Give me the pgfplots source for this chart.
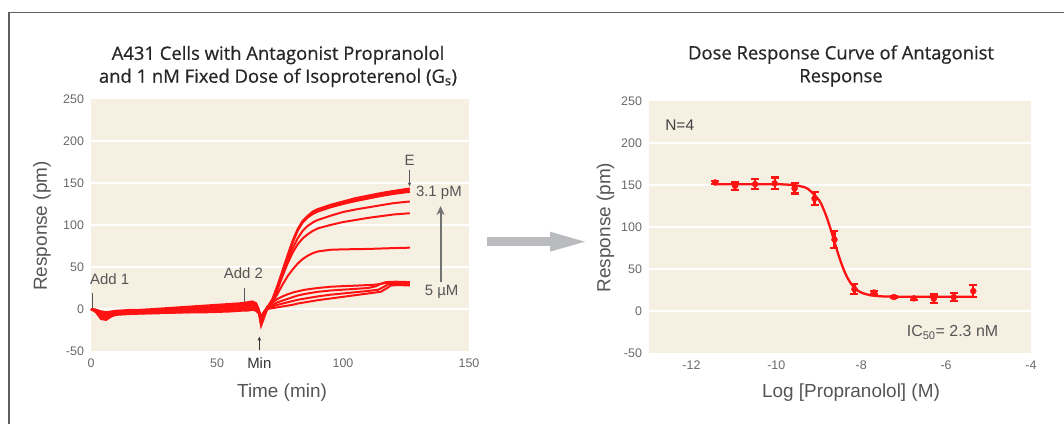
\documentclass[border=0pt]{standalone}
\usepackage{fontspec}
\setmainfont{Liberation Sans}
\newfontfamily\titlefont{Open Sans}[FakeBold=0.6]
\usepackage{pgfplots}
\pgfplotsset{compat=1.18}
\usetikzlibrary{arrows.meta}
\definecolor{bg}{RGB}{246,240,227}
\definecolor{tickc}{RGB}{105,105,105}
\definecolor{labc}{RGB}{85,85,85}
\definecolor{trace}{RGB}{255,18,18}
\definecolor{arrowc}{RGB}{185,187,191}
\definecolor{framec}{RGB}{95,95,95}
\pgfplotsset{
  myaxis/.style={
    scale only axis,
    axis background/.style={fill=bg},
    axis line style={draw=none},
    major tick length=0pt,
    ymin=-50, ymax=250, ytick={0,50,...,200},
    extra y ticks={-50,250}, extra y tick style={grid=none},
    ymajorgrids, grid style={white, line width=2.5bp},
    tick label style={font=\fontsize{12.5}{14}\selectfont, text=tickc},
    yticklabel style={xshift=-3.5bp},
    xticklabel style={yshift=-4.5bp},
    /pgf/number format/assume math mode=true,
    clip=false,
  },
  tr/.style={trace, line width=2bp},
}
\begin{document}
\begin{tikzpicture}
\useasboundingbox (0bp,0bp) rectangle (1064bp,424bp);
\draw[framec, line width=1.3bp] (9bp,-2bp) -- (9bp,411.3bp) -- (1068bp,411.3bp);
% big arrow
\fill[arrowc] (486.7bp,178bp) rectangle (550.5bp,186.6bp);
\fill[arrowc] (550bp,172.3bp) -- (585bp,182.3bp) -- (550bp,192.3bp) -- cycle;
% titles
\node[align=center, font=\titlefont\fontsize{18.5}{23}\selectfont, text=black!85] at (278bp,357.5bp)
  {A431 Cells with Antagonist Propranolol\\and 1 nM Fixed Dose of Isoproterenol (G\textsubscript{s})};
\node[align=center, font=\titlefont\fontsize{18.5}{23}\selectfont, text=black!85] at (841bp,358bp)
  {Dose Response Curve of Antagonist\\Response};
% axis labels
\node[rotate=90, font=\fontsize{19}{21}\selectfont, text=labc] at (42bp,198bp) {Response (pm)};
\node[rotate=90, font=\fontsize{19}{21}\selectfont, text=labc] at (605.5bp,196.5bp) {Response (pm)};
\node[font=\fontsize{19}{21}\selectfont, text=labc] at (282bp,31bp) {Time (min)};
\node[font=\fontsize{19}{21}\selectfont, text=labc] at (851bp,31bp) {Log [Propranolol] (M)};

\begin{axis}[myaxis, at={(91bp,73bp)}, anchor=south west, width=378bp, height=252bp,
  xmin=0, xmax=150, xtick={0,50,100,150}]
\addplot[tr] coordinates {(0,0)(2,-2)(4,-6)(6,-5)(9,-3)(12,-2)(15,-1)(20,-1)(25,0)(30,1)(35,2)(40,3)(45,4)(50,5)(55,6)(60,7)(62,8)(64,9)(65.5,7)(66.5,0)(67.5,-10)(69,-2)(70,2)(72,12)(74,28)(76,46)(78,64)(80,81)(82,95)(84,105)(86,111)(88,116)(90,119)(95,124)(100,128)(105,132)(110,135)(115,138)(120,140.5)(126.5,143.5)};
\addplot[tr] coordinates {(0,0)(2,-3)(4,-10)(6,-11)(8,-7)(10,-5)(15,-4)(20,-3)(25,-2)(30,-1)(35,0)(40,1)(45,2)(50,3)(55,4)(60,5)(62,6)(64,7)(65.5,5)(66.5,-2)(67.5,-18)(68.5,-10)(70,1)(72,10)(74,26)(76,44)(78,62)(80,79)(82,93)(84,103)(86,109)(88,113)(90,116)(95,121)(100,125)(105,128.5)(110,131.5)(115,134.5)(120,137)(126.5,139.5)};
\addplot[tr] coordinates {(0,0)(2,-1)(4,-3)(6,-4)(10,-2)(15,-2)(20,-1)(25,-1)(30,0)(35,1)(40,2)(45,3)(50,4)(55,5)(60,6)(62,7)(64,8)(65.5,6)(66.5,0)(67.5,-14)(69,-4)(70,1.5)(72,11)(74,27)(76,45)(78,63)(80,80)(82,94)(84,104)(86,110)(88,114.5)(90,117.5)(95,122.5)(100,126.5)(105,130)(110,133)(115,136)(120,138.8)(126.5,141.5)};
\addplot[tr] coordinates {(0,0)(2,-4)(4,-12)(6,-13)(8,-9)(10,-6)(15,-5)(20,-4.5)(25,-4)(30,-3)(35,-2)(40,-1)(45,0)(50,1)(55,2)(60,3)(62,4)(64,5)(65.5,3)(66.5,-3)(67.5,-20)(68.5,-12)(70,1)(72,10)(74,25)(76,42)(78,58)(80,72)(82,84)(84,93)(86,99)(88,103)(90,106)(95,111)(100,115.5)(105,118.5)(110,121)(115,123.5)(120,126)(126.5,128)};
\addplot[tr] coordinates {(0,0)(2,-2)(4,-5)(6,-6)(10,-4)(15,-3)(20,-2.5)(25,-2)(30,-1.5)(35,-1)(40,0)(45,1)(50,2)(55,3)(60,4)(62,5)(64,6)(65.5,4)(66.5,-1)(67.5,-16)(69,-6)(70,0)(72,9)(74,23)(76,39)(78,54)(80,67)(82,77)(84,84)(86,89)(88,93)(90,96)(95,100)(100,103.5)(105,106)(110,108.5)(115,110.5)(120,112.5)(126.5,114)};
\addplot[tr] coordinates {(0,0)(2,-2)(4,-7)(6,-8)(10,-5)(15,-4)(20,-3.5)(25,-3)(30,-2)(35,-1)(40,0)(45,1)(50,1.5)(55,2)(60,3)(62,4)(64,5)(65.5,3)(66.5,-2)(67.5,-14)(68.5,-8)(70,1)(72,8)(74,18)(76,29)(78,39)(80,47)(82,54)(84,59.5)(86,63.5)(88,66.5)(90,68.5)(95,70.5)(100,71)(110,71.5)(120,72.5)(126.5,73)};
\addplot[tr] coordinates {(0,0)(2,-1)(4,-4)(6,-5)(10,-3)(15,-3)(20,-3)(25,-3)(30,-2.5)(35,-2)(40,-1.5)(45,-1)(50,0)(55,1)(60,2)(62,3)(64,4)(65.5,2)(66.5,-2)(67.5,-10)(68.5,-5)(70,3)(72,8)(74,12)(76,15)(78,17.5)(80,19.5)(82,21)(85,23)(90,25)(95,26.5)(100,27.2)(105,27.8)(110,28.5)(113,29)(116,30.5)(118,31.5)(122,31.5)(126.5,31.5)};
\addplot[tr] coordinates {(0,0)(2,-3)(4,-9)(6,-10)(10,-7)(15,-6)(20,-5.5)(25,-5)(30,-4.5)(35,-4)(40,-3.5)(45,-3)(50,-2)(55,-1)(60,0)(62,1)(64,2)(65.5,0)(66.5,-3)(67.5,-12)(68.5,-7)(70,2)(72,5)(74,8)(76,10)(78,12)(80,14)(82,16)(85,18)(90,20.5)(95,22)(100,23)(105,24)(110,25)(113,27)(115,30)(117,32)(121,32.5)(126.5,32)};
\addplot[tr] coordinates {(0,0)(2,-2)(4,-6)(6,-7)(10,-5)(15,-5)(20,-5)(25,-5)(30,-4.5)(35,-4)(40,-3.5)(45,-3)(50,-2.5)(55,-2)(60,-1)(62,-1)(64,0)(65.5,-1)(66.5,-4)(67.5,-10)(69,-3)(70,1)(72,3)(74,5)(76,6.5)(78,8)(80,9.5)(82,11)(85,12.5)(90,15)(95,17)(100,18.5)(105,20)(110,21.5)(114,23)(116,26)(118,29.5)(121,30)(126.5,30)};
\addplot[tr] coordinates {(0,0)(2,-1)(4,-3)(6,-4)(10,-4)(15,-5)(20,-5)(25,-5)(30,-4.5)(35,-4)(40,-4)(45,-4)(50,-3.5)(55,-3)(60,-2)(62,-2)(64,-1)(65.5,-2)(66.5,-5)(67.5,-8)(69,-2)(70,0)(72,1)(74,2)(76,3)(78,4)(80,5)(82,6.5)(85,8)(90,10.5)(95,12.5)(100,14.5)(105,16.5)(110,18.5)(115,20.5)(117,24)(119,28)(122,28.5)(126.5,28)};
% annotations
\draw[labc, line width=0.8bp] (axis cs:0.6,1) -- (axis cs:0.6,18.5);
\node[anchor=west, inner sep=0pt, font=\fontsize{15}{17}\selectfont, text=labc] at (axis cs:-0.4,35.7) {Add 1};
\draw[labc, line width=0.8bp] (axis cs:60.7,8.7) -- (axis cs:60.7,25);
\node[inner sep=0pt, font=\fontsize{15}{17}\selectfont, text=labc] at (axis cs:60.5,43) {Add 2};
\draw[black!80, line width=0.8bp, -{Stealth[length=4bp,width=3.5bp]}] (axis cs:66.8,-49) -- (axis cs:66.8,-33);
\node[inner sep=0pt, font=\fontsize{15}{17}\selectfont, text=black!80] at (axis cs:66.8,-64.3) {Min};
\node[inner sep=0pt, font=\fontsize{15}{17}\selectfont, text=labc] at (axis cs:126.4,177) {E};
\draw[labc, line width=0.8bp, -{Stealth[length=4bp,width=3.5bp]}] (axis cs:126.4,166) -- (axis cs:126.4,146);
\node[anchor=west, inner sep=0pt, font=\fontsize{15}{17}\selectfont, text=labc] at (axis cs:128.9,138) {3.1 pM};
\node[anchor=west, inner sep=0pt, font=\fontsize{15}{17}\selectfont, text=labc] at (axis cs:132.4,20.2) {5 µM};
\draw[black!55, line width=2bp, -{Stealth[length=9bp,width=8bp]}] (axis cs:138.7,32) -- (axis cs:138.7,122.6);
\end{axis}

\begin{axis}[myaxis, at={(649bp,71bp)}, anchor=south west, width=382bp, height=252bp,
  xmin=-13, xmax=-4, xtick={-12,-10,-8,-6,-4}]
\addplot[trace, line width=2.3bp, smooth] coordinates {(-11.44,151)(-10.5,150.95)(-10,150.9)(-9.75,150.5)(-9.5,149.3)(-9.4,148.2)(-9.25,145.2)(-9.0,132.4)(-8.9,122.7)(-8.8,109.7)(-8.7,94.1)(-8.6,77.2)(-8.5,61.2)(-8.4,47.7)(-8.3,37.3)(-8.2,30.0)(-8.1,25.2)(-8.0,22.0)(-7.8,18.9)(-7.5,17.4)(-7.0,17.0)(-6,17)(-5.36,17)};
\addplot[trace, only marks, mark=*, mark size=3bp,
  error bars/.cd, y dir=both, y explicit,
  error bar style={line width=2.2bp, trace},
  error mark options={rotate=90, trace, line width=2.2bp, mark size=4bp}]
 coordinates {
 (-11.44,153) +- (0,1.5)
 (-10.97,149) +- (0,5)
 (-10.50,151) +- (0,6)
 (-10.04,152) +- (0,7)
 (-9.57,146) +- (0,6)
 (-9.10,134) +- (0,8)
 (-8.63,85) +- (0,10)
 (-8.16,26) +- (0,6)
 (-7.70,22) +- (0,2)
 (-7.23,16.6) +- (0,1.5)
 (-6.76,15) +- (0,1.5)
 (-6.29,14.7) +- (0,5)
 (-5.82,16.6) +- (0,5)
 (-5.36,23.7) +- (0,7)
 };
\node[anchor=west, inner sep=0pt, font=\fontsize{15.5}{17}\selectfont, text=black!75] at (axis cs:-12.62,221) {N=4};
\node[anchor=west, inner sep=0pt, font=\fontsize{16}{18}\selectfont, text=labc] at (axis cs:-6.93,-25.6) {IC\textsubscript{50}= 2.3 nM};
\end{axis}
\end{tikzpicture}
\end{document}
